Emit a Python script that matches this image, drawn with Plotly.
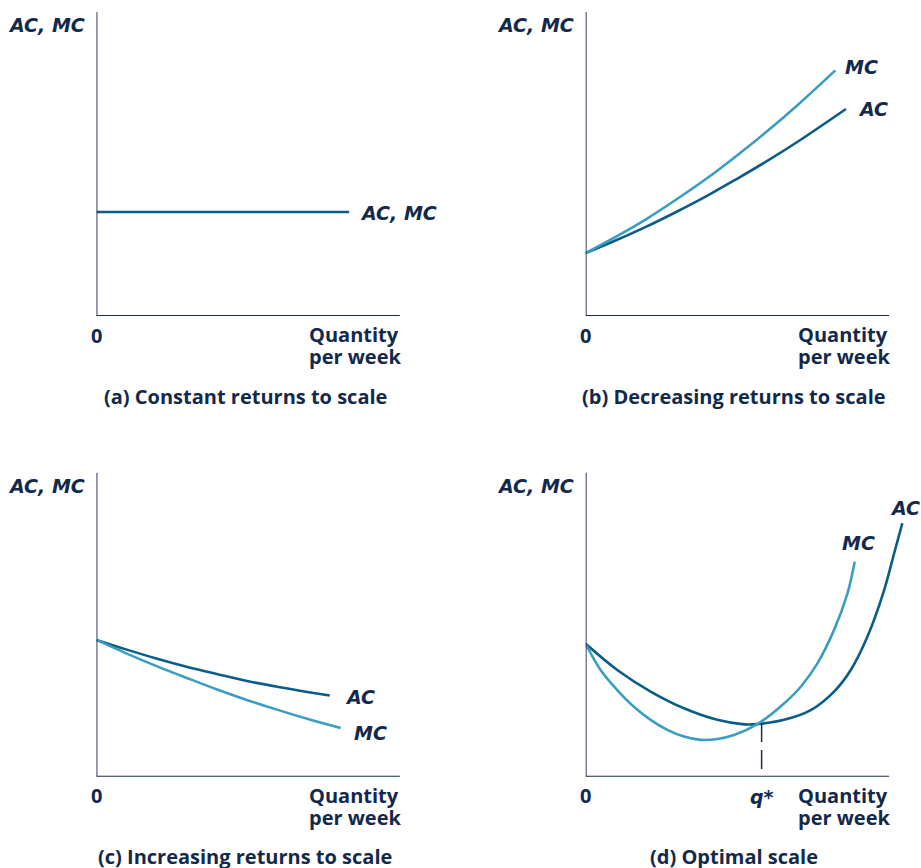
import plotly.graph_objects as go

# ---------------- data (axis units 0..10) ----------------
a_x = [0, 8.33]
a_acmc = [3.42, 3.42]

b_mc_x = [0, 1, 2, 3, 4, 5, 6, 7, 8.23]
b_mc_y = [2.07, 2.61, 3.19, 3.84, 4.53, 5.29, 6.09, 6.95, 8.08]
b_ac_x = [0, 1, 2, 3, 4, 5, 6, 7, 8.58]
b_ac_y = [2.07, 2.49, 2.94, 3.43, 3.95, 4.52, 5.11, 5.74, 6.81]

c_ac_x = [0, 1, 2, 3, 4, 5, 6, 7, 7.69]
c_ac_y = [4.50, 4.18, 3.88, 3.61, 3.37, 3.14, 2.95, 2.78, 2.67]
c_mc_x = [0, 1, 2, 3, 4, 5, 6, 7, 8.05]
c_mc_y = [4.50, 4.05, 3.63, 3.24, 2.86, 2.51, 2.19, 1.89, 1.60]

d_ac_x = [0, 1.04, 2.14, 3.24, 4.34, 5.22, 5.66, 6.54, 7.42, 8.19, 8.74, 9.29, 9.84, 10.17, 10.44]
d_ac_y = [4.37, 3.51, 2.80, 2.25, 1.87, 1.72, 1.73, 1.87, 2.19, 2.80, 3.51, 4.61, 6.14, 7.35, 8.34]
d_mc_x = [0, 0.49, 1.04, 1.59, 2.14, 2.69, 3.24, 3.79, 4.34, 4.89, 5.66, 6.54, 7.09, 7.64, 8.19, 8.63, 8.87]
d_mc_y = [4.37, 3.51, 2.85, 2.30, 1.87, 1.54, 1.32, 1.21, 1.24, 1.37, 1.73, 2.41, 2.96, 3.73, 4.83, 6.03, 7.07]
q_star = 5.80
q_star_y = 1.77

titles = ["(a) Constant returns to scale", "(b) Decreasing returns to scale",
          "(c) Increasing returns to scale", "(d) Optimal scale"]
y_label = "AC, MC"
x_label = ["Quantity", "per week"]

# ---------------- styling ----------------
W, H = 921, 868
SX, SY = 30.33, 30.4
DARK = "#0b5d88"
LIGHT = "#3b9dc2"
NAVY = "#13294b"
AXIS = "#1b2b4d"
FONT = "Open Sans"
IFONT = "DejaVu Sans"
FS = 20
IFS = 19

origins = [(96.5, 316.0), (585.7, 316.0), (96.5, 776.7), (585.7, 776.7)]
XR, YR = 11.0, 10.3

fig = go.Figure()
layout_axes = {}
shapes = []
annotations = []

def ax_names(i):
    s = "" if i == 0 else str(i + 1)
    return "x" + s, "y" + s, "xaxis" + s, "yaxis" + s

for i, (ox, oy) in enumerate(origins):
    xr, yr, xk, yk = ax_names(i)
    layout_axes[xk] = dict(domain=[ox / W, (ox + XR * SX) / W], range=[0, XR],
                           visible=False, fixedrange=True, anchor=yr)
    layout_axes[yk] = dict(domain=[1 - oy / H, 1 - (oy - YR * SY) / H], range=[0, YR],
                           visible=False, fixedrange=True, anchor=xr)
    # axes lines
    shapes.append(dict(type="line", xref=xr, yref=yr, x0=0, y0=0, x1=10, y1=0,
                       line=dict(color=AXIS, width=1.8), layer="above"))
    shapes.append(dict(type="line", xref=xr, yref=yr, x0=0, y0=0, x1=0, y1=10,
                       line=dict(color=AXIS, width=1.8), layer="above"))
    # y label
    annotations.append(dict(xref="paper", yref="paper", x=(ox - 10) / W, y=1 - (oy - 291) / H,
                            xanchor="right", yanchor="middle", showarrow=False,
                            text="<b><i>" + y_label + "</i></b>",
                            font=dict(family=IFONT, size=IFS, color=NAVY)))
    # zero
    annotations.append(dict(xref="paper", yref="paper", x=ox / W, y=1 - (oy + 19) / H,
                            xanchor="center", yanchor="middle", showarrow=False,
                            text="<b>0</b>", font=dict(family=FONT, size=FS, color=NAVY)))
    # quantity per week
    for j, t in enumerate(x_label):
        annotations.append(dict(xref="paper", yref="paper", x=(ox + 210.5) / W,
                                y=1 - (oy + 18.5 + 22 * j) / H,
                                xanchor="left", yanchor="middle", showarrow=False,
                                text="<b>" + t + "</b>", font=dict(family=FONT, size=FS, color=NAVY)))
    # title
    annotations.append(dict(xref="paper", yref="paper", x=(ox + 148.5) / W, y=1 - (oy + 80) / H,
                            xanchor="center", yanchor="middle", showarrow=False,
                            text="<b>" + titles[i] + "</b>", font=dict(family=FONT, size=FS, color=NAVY)))

def line(x, y, color, i):
    xr, yr, _, _ = ax_names(i)
    fig.add_trace(go.Scatter(x=x, y=y, mode="lines", xaxis=xr, yaxis=yr,
                             line=dict(color=color, width=2.6, shape="spline", smoothing=1.0),
                             hoverinfo="skip", showlegend=False, cliponaxis=False))

line(a_x, a_acmc, DARK, 0)
line(b_ac_x, b_ac_y, DARK, 1)
line(b_mc_x, b_mc_y, LIGHT, 1)
line(c_ac_x, c_ac_y, DARK, 2)
line(c_mc_x, c_mc_y, LIGHT, 2)
line(d_ac_x, d_ac_y, DARK, 3)
line(d_mc_x, d_mc_y, LIGHT, 3)

# q* dashed line
shapes.append(dict(type="line", xref="x4", yref="y4", x0=q_star, y0=q_star_y, x1=q_star, y1=0.22,
                   line=dict(color=AXIS, width=1.5, dash="19px,8px")))

def curve_label(text, i, x, y):
    xr, yr, _, _ = ax_names(i)
    annotations.append(dict(xref=xr, yref=yr, x=x, y=y, xanchor="left", yanchor="middle",
                            showarrow=False, text="<b><i>" + text + "</i></b>",
                            font=dict(family=IFONT, size=IFS, color=NAVY)))

curve_label("AC, MC", 0, 8.62, 3.39)
curve_label("MC", 1, 8.48, 8.19)
curve_label("AC", 1, 8.92, 6.82)
curve_label("AC", 2, 8.12, 2.63)
curve_label("MC", 2, 8.43, 1.45)
curve_label("AC", 3, 9.98, 8.84)
curve_label("MC", 3, 8.40, 7.70)

ox4, oy4 = origins[3]
annotations.append(dict(xref="paper", yref="paper", x=(ox4 + q_star * SX) / W, y=1 - (oy4 + 20) / H,
                        xanchor="center", yanchor="middle", showarrow=False,
                        text="<b><i>q*</i></b>",
                        font=dict(family=IFONT, size=IFS, color=NAVY)))

fig.update_layout(width=W, height=H, margin=dict(l=0, r=0, t=0, b=0),
                  paper_bgcolor="white", plot_bgcolor="rgba(0,0,0,0)",
                  shapes=shapes, annotations=annotations, showlegend=False, **layout_axes)

fig.write_html("out.html", config={"displayModeBar": False},
               post_script="document.body.style.margin='0';document.body.style.overflow='hidden';")
